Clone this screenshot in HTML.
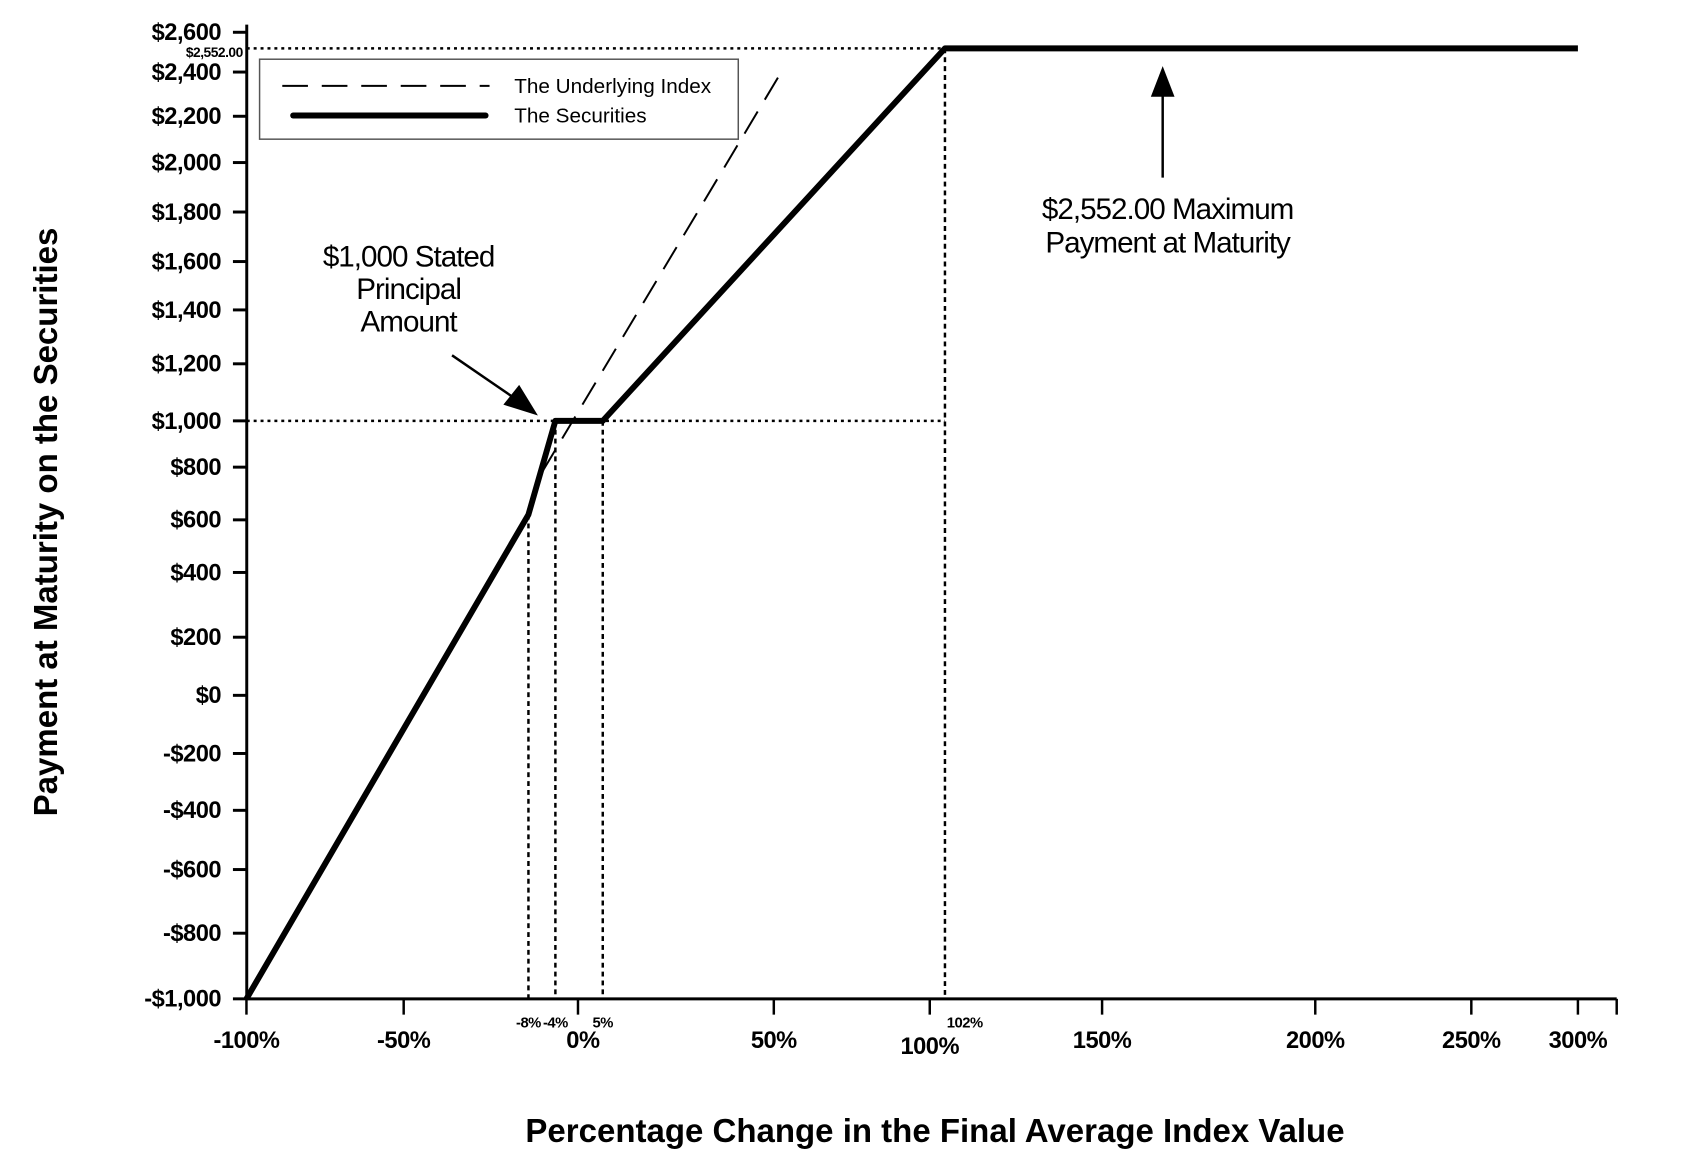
<!DOCTYPE html>
<html><head><meta charset="utf-8"><style>
body{margin:0;background:#fff;}
svg{display:block;font-family:"Liberation Sans",Arial,sans-serif;}
</style></head><body>
<svg id="c" width="1688" height="1159" viewBox="0 0 1688 1159"><g id="g" transform="scale(0.987)"></g></svg>
<script>
const yTickVals=[2600,2400,2200,2000,1800,1600,1400,1200,1000,800,600,400,200,0,-200,-400,-600,-800,-1000];
const yTickLabels=["$2,600","$2,400","$2,200","$2,000","$1,800","$1,600","$1,400","$1,200","$1,000","$800","$600","$400","$200","$0","-$200","-$400","-$600","-$800","-$1,000"];
const xTickVals=[-100,-50,0,50,100,150,200,250,300];
const xTickLabels=["-100%","-50%","0%","50%","100%","150%","200%","250%","300%"];
const xMarkVals=[-8,-4,5,102];
const xMarkLabels=["-8%","-4%","5%","102%"];
const secX=[-100,-8,-4,5,102,300];
const secY=[-1000,620,1000,1000,2552,2552];
const idxX=[-6,53];
const idxY=[780,2420];
const capValue=2552;
const principal=1000;

// axis layout (irregular pixel spacing of the original drawing)
const yAnch=[2600,2552,2400,2200,2000,1800,1600,1400,1200,1000,800,600,400,200,0,-200,-400,-600,-800,-1000];
const yPix=[32.7,49,73,117.8,164.7,214.8,265,314,368.6,426.4,473.3,526.7,580,645.6,704.5,763.4,821,881,945.5,1012];
const xAnch=[-100,-50,-8,-4,0,5,50,100,102,150,200,250,300];
const xAnchPix=[249.7,409,535.4,562.7,585.6,610.7,784,942,957.4,1116.6,1332.6,1490.7,1598.7];
function interp(v,vals,pix){
  for(let i=0;i<vals.length-1;i++){
    const a=vals[i],b=vals[i+1];
    if((v-a)*(v-b)<=0){return pix[i]+(v-a)/(b-a)*(pix[i+1]-pix[i]);}
  }
  return v>vals[0]===(vals[1]>vals[0])?pix[pix.length-1]:pix[0];
}
const Y=v=>interp(v,yAnch,yPix);
const X=v=>interp(v,xAnch,xAnchPix);
const svg=document.getElementById('c');
const G=document.getElementById('g');
const NS='http://www.w3.org/2000/svg';
function el(tag,attrs,text,root){const e=document.createElementNS(NS,tag);for(const k in attrs)e.setAttribute(k,attrs[k]);if(text!==undefined)e.textContent=text;(root||G).appendChild(e);return e;}
const axX=250,axY=1012,axEnd=1638;
let e;
e=el('line',{x1:axX,y1:Y(principal),x2:X(102),y2:Y(principal),stroke:'#000','stroke-width':2.5,'stroke-dasharray':'3,4'});

e=el('line',{x1:axX,y1:Y(capValue),x2:X(102),y2:Y(capValue),stroke:'#000','stroke-width':2.5,'stroke-dasharray':'3,4'});

xMarkVals.forEach((v,i)=>{
  const sy=interp(v,secX,secY);
  const d=el('line',{x1:X(v),y1:Y(sy),x2:X(v),y2:axY,stroke:'#000','stroke-width':2.5,'stroke-dasharray':'5,4'});
  
  
  const t=el('text',{x:X(v)+(v===102?20:0),y:1041,'font-size':15,'font-weight':'bold','text-anchor':'middle','letter-spacing':'-0.5'},xMarkLabels[i]);
  
  
});
e=el('line',{x1:axX,y1:25,x2:axX,y2:axY,stroke:'#000','stroke-width':3});

e=el('line',{x1:axX,y1:axY,x2:axEnd,y2:axY,stroke:'#000','stroke-width':3});

e=el('line',{x1:axEnd,y1:axY,x2:axEnd,y2:axY+16,stroke:'#000','stroke-width':2.5});

yTickVals.forEach((v,i)=>{
  const t=el('line',{x1:axX-14,y1:Y(v),x2:axX,y2:Y(v),stroke:'#000','stroke-width':3});
  
  
  const l=el('text',{x:axX-26,y:Y(v)+8,'font-size':24,'font-weight':'bold','text-anchor':'end','letter-spacing':'-0.5'},yTickLabels[i]);
  
  
});
xTickVals.forEach((v,i)=>{
  const t=el('line',{x1:X(v),y1:axY,x2:X(v),y2:axY+16,stroke:'#000','stroke-width':2.5});
  
  
  const l=el('text',{x:X(v)+(v===0?5:0),y:v===100?1068:1062,'font-size':24,'font-weight':'bold','text-anchor':'middle','letter-spacing':'-0.5'},xTickLabels[i]);
  
  
});
e=el('text',{x:axX-4,y:58,'font-size':14,'font-weight':'bold','text-anchor':'end','letter-spacing':'-0.5'},'$2,552.00');

e=el('polyline',{points:idxX.map((v,i)=>X(v)+','+Y(idxY[i])).join(' '),fill:'none',stroke:'#000','stroke-width':2,'stroke-dasharray':'26,14'});

e=el('polyline',{points:secX.map((v,i)=>X(v)+','+Y(secY[i])).join(' '),fill:'none',stroke:'#000','stroke-width':6,'stroke-linejoin':'round'});

e=el('rect',{x:263,y:60,width:485,height:81,fill:'#fff',stroke:'#555','stroke-width':1.5});

e=el('line',{x1:286,y1:87,x2:496,y2:87,stroke:'#000','stroke-width':2,'stroke-dasharray':'26,14'});

e=el('text',{x:521,y:94,'font-size':21},'The Underlying Index');

e=el('line',{x1:297,y1:117,x2:492,y2:117,stroke:'#000','stroke-width':6,'stroke-linecap':'round'});

e=el('text',{x:521,y:124,'font-size':21},'The Securities');

[['$1,000 Stated',270],['Principal',303],['Amount',336]].forEach(a=>{
  const t=el('text',{x:414,y:a[1],'font-size':30,'text-anchor':'middle','letter-spacing':'-1'},a[0]);
  
  
});
e=el('line',{x1:458,y1:360,x2:525,y2:406,stroke:'#000','stroke-width':2.5});

e=el('polygon',{points:'545,421 510,410 526,390',fill:'#000'});

[['$2,552.00 Maximum',222],['Payment at Maturity',256]].forEach(a=>{
  const t=el('text',{x:1183,y:a[1],'font-size':30,'text-anchor':'middle','letter-spacing':'-1'},a[0]);
  
  
});
e=el('line',{x1:1178,y1:180,x2:1178,y2:90,stroke:'#000','stroke-width':2.5});

e=el('polygon',{points:'1178,67 1166,98 1190,98',fill:'#000'});

e=el('text',{x:935,y:1142,'font-size':33,'font-weight':'bold','text-anchor':'middle'},'Percentage Change in the Final Average Index Value',svg);

e=el('text',{x:0,y:0,'font-size':33,'font-weight':'bold','text-anchor':'middle',transform:'translate(57,522) rotate(-90)'},'Payment at Maturity on the Securities',svg);

</script>
</body></html>
